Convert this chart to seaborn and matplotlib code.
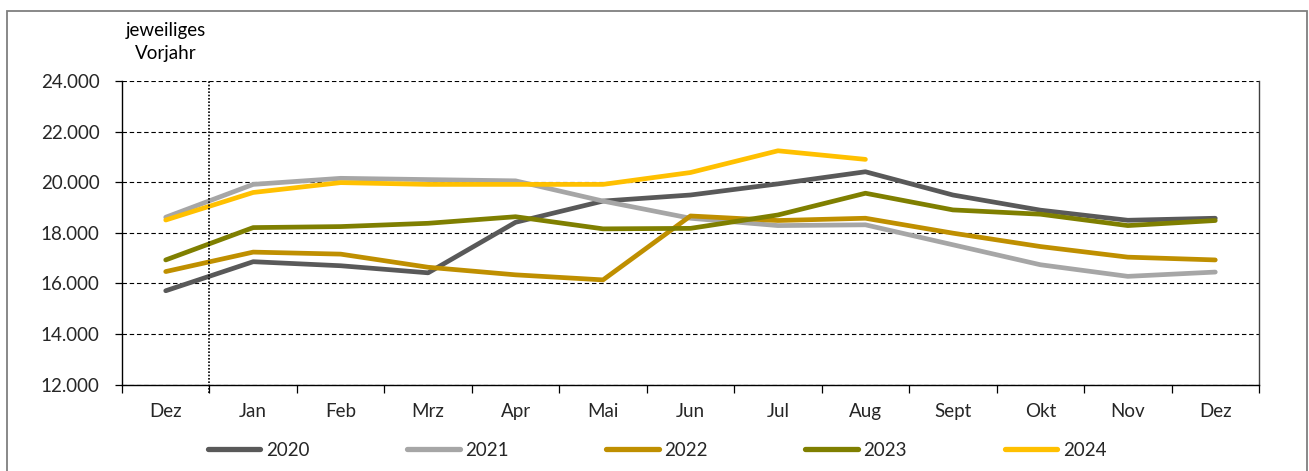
import matplotlib.pyplot as plt
import matplotlib.patches as mpatches
from matplotlib.ticker import FuncFormatter, FixedLocator
import matplotlib.transforms as mtransforms
import seaborn as sns
import pandas as pd

sns.set_style("white")
plt.rcParams["font.family"] = ["Lato", "DejaVu Sans"]

# ---------------- data ----------------
months = ["Dez", "Jan", "Feb", "Mrz", "Apr", "Mai", "Jun", "Jul",
          "Aug", "Sept", "Okt", "Nov", "Dez"]

y2020 = [15710, 16860, 16700, 16420, 18420, 19260, 19500, 19940, 20420,
         19500, 18900, 18500, 18580]
y2021 = [18620, 19920, 20160, 20110, 20060, 19260, 18580, 18290, 18320,
         17530, 16740, 16280, 16450]
y2022 = [16470, 17240, 17160, 16640, 16340, 16140, 18670, 18490, 18580,
         17990, 17460, 17040, 16930]
y2023 = [16930, 18210, 18250, 18380, 18640, 18160, 18180, 18710, 19570,
         18910, 18740, 18290, 18490]
y2024 = [18510, 19600, 19990, 19920, 19920, 19920, 20390, 21250, 20910]

series = {"2020": y2020, "2021": y2021, "2022": y2022, "2023": y2023, "2024": y2024}
colors = {"2020": "#595959", "2021": "#A6A6A6", "2022": "#BF8F00",
          "2023": "#7F7F00", "2024": "#FFC000"}

rows = []
for year, vals in series.items():
    for i, v in enumerate(vals):
        rows.append({"pos": i, "value": v, "year": year})
df = pd.DataFrame(rows)

FS = 13.5

# ---------------- figure ----------------
W, H = 1309, 471
fig = plt.figure(figsize=(W / 100, H / 100), dpi=100, facecolor="white")
ax = fig.add_axes([122 / W, 1 - 384.5 / H, (1259 - 122) / W, (384.5 - 81.3) / H])

# outer frame
frame = mpatches.Rectangle((7 / W, -0.02), (1306.5 - 7) / W, 1.02 - 11.3 / H,
                           transform=fig.transFigure, fill=False,
                           edgecolor="#7F7F7F", linewidth=1.3, zorder=0)
fig.patches.append(frame)

sns.lineplot(data=df, x="pos", y="value", hue="year", palette=colors,
             linewidth=3.4, ax=ax, legend=False, sort=False)
for ln in ax.lines:
    ln.set_solid_capstyle("round")
    ln.set_solid_joinstyle("round")

ax.set_xlim(-0.5, 12.5)
ax.set_ylim(12000, 24000)

# y axis
ax.set_yticks(range(12000, 24001, 2000))
ax.yaxis.set_major_formatter(FuncFormatter(lambda v, p: f"{int(v):,}".replace(",", ".")))
ax.grid(axis="y", color="#000000", linestyle=(0, (4, 2.5)), linewidth=0.8)
ax.tick_params(axis="y", which="major", length=5, width=0.9, color="#000000",
               direction="out", pad=11, labelsize=FS, left=True)

# x axis
ax.set_xticks(range(len(months)))
ax.set_xticklabels(months)
ax.xaxis.set_minor_locator(FixedLocator([i - 0.5 for i in range(len(months) + 1)]))
ax.tick_params(axis="x", which="major", length=0, pad=13, labelsize=FS)
ax.tick_params(axis="x", which="minor", length=6, width=0.9, color="#000000",
               direction="out", bottom=True)

for side in ["left", "bottom"]:
    ax.spines[side].set_color("#000000")
    ax.spines[side].set_linewidth(1.0)
ax.spines["right"].set_color("#404040")
ax.spines["right"].set_linewidth(1.0)
ax.spines["top"].set_visible(False)
ax.set_xlabel("")
ax.set_ylabel("")

# "previous year" separator
ax.axvline(0.5, ymin=-0.027, ymax=1, color="#000000", linestyle=(0, (1, 1)),
           linewidth=1.2, clip_on=False)
trans = mtransforms.blended_transform_factory(ax.transData, fig.transFigure)
ax.text(0, 1 - 42 / H, "jeweiliges\nVorjahr", transform=trans, ha="center",
        va="center", fontsize=FS, linespacing=1.4, color="#000000")

# legend
handles = [plt.Line2D([0], [0], color=colors[y], linewidth=3.8,
                      solid_capstyle="round") for y in series]
fig.legend(handles, list(series.keys()), loc="center", ncol=5,
           bbox_to_anchor=(657 / W, 1 - 450 / H), frameon=False, fontsize=FS,
           handlelength=2.8, handletextpad=0.3, columnspacing=5.2)

plt.savefig("out.png", dpi=100, facecolor="white")
